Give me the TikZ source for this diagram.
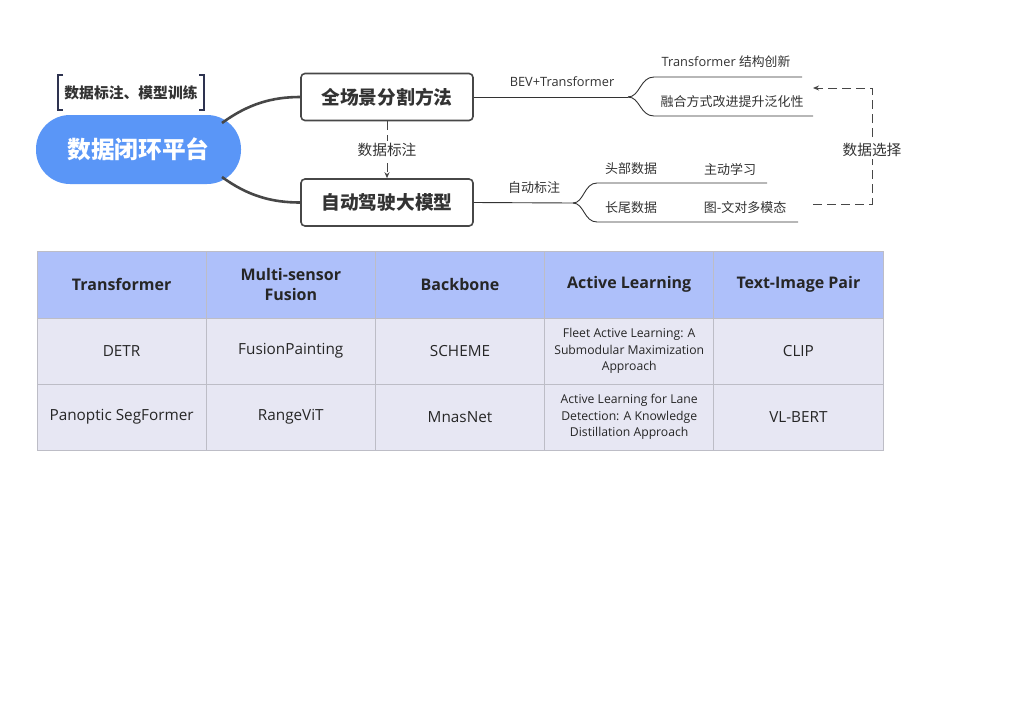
\documentclass[tikz,border=0pt]{standalone}
\usepackage{fontspec}
\setmainfont{Open Sans}
\newfontfamily\cjk{Noto Sans CJK SC}
\usetikzlibrary{arrows.meta}
\definecolor{txt}{HTML}{333333}
\definecolor{pillblue}{HTML}{5A96F7}
\definecolor{hdr}{HTML}{AEC0FA}
\definecolor{body}{HTML}{E7E7F3}
\definecolor{gridc}{HTML}{BDBDC6}
\definecolor{brk}{HTML}{2E3350}
\tikzset{
  thickline/.style={draw=txt!90, line width=2.6pt},
  thinline/.style={draw=txt, line width=0.9pt},
  mainbox/.style={draw=txt!90, line width=1.6pt, rounded corners=4pt, fill=white, minimum width=172pt, minimum height=47pt, font=\cjk\bfseries\fontsize{18.7}{22}\selectfont, text=txt, inner sep=0pt},
  lbl/.style={font=\cjk\fontsize{13}{15}\selectfont, text=txt, inner sep=1pt},
  lbllat/.style={font=\fontsize{12.8}{15}\selectfont, text=txt, inner sep=1pt},
  hcell/.style={draw=gridc, line width=1pt, fill=hdr, minimum width=169.2pt, minimum height=67pt, inner sep=0pt, align=center, font=\bfseries\fontsize{16}{20}\selectfont, text=black!85},
  bcell/.style={draw=gridc, line width=1pt, fill=body, minimum width=169.2pt, minimum height=66pt, inner sep=0pt, align=center, font=\fontsize{15.3}{18}\selectfont, text=black!85},
  scell/.style={bcell, font=\fontsize{12.2}{16.5}\selectfont},
  dashc/.style={draw=txt!90, line width=1pt, dash pattern=on 9pt off 5pt},
}
\begin{document}
\begin{tikzpicture}[x=1pt,y=-1pt]
\fill[white] (0,0) rectangle (1024,702);
\useasboundingbox (0,0) rectangle (1024,702);

% main pill
\node[fill=pillblue, rounded corners=34pt, minimum width=205pt, minimum height=69pt, inner sep=0pt,
  font=\cjk\bfseries\fontsize{23.7}{26}\selectfont, text=white] (pill) at (138.5,149.5) {数据闭环平台};

% bracket label
\node[font=\cjk\bfseries\fontsize{14.8}{17}\selectfont, text=txt] (brklbl) at (131,93) {数据标注、模型训练};
\coordinate (bl1) at (63,75); \coordinate (bl2) at (63,110);
\coordinate (br1) at (199,75); \coordinate (br2) at (199,110);
\draw[brk, line width=1.2pt] (bl1) -- ++(-5,0) -- ++(0,35) -- (bl2);
\draw[brk, line width=1.2pt] (br1) -- ++(5,0) -- ++(0,35) -- (br2);

% boxes
\node[mainbox] (b1) at (387,97) {全场景分割方法};
\node[mainbox] (b2) at (387,202.5) {自动驾驶大模型};

% curves from pill
\coordinate (p1) at (222,123);
\coordinate (p2) at (222,177);
\draw[thickline] (p1) .. controls (248,104) and (272,97) .. (b1.west);
\draw[thickline] (p2) .. controls (248,196) and (272,202.5) .. (b2.west);

% dashed arrow between boxes
\draw[dashc, -{Stealth[length=6pt,width=5pt]}] (b1.south) -- (b2.north)
  node[midway, fill=white, lbl, font=\cjk\fontsize{14.7}{17}\selectfont, inner sep=2pt] (dl) {数据标注};

% right branches, box 1
\coordinate (j1) at (628,97);
\coordinate (u1e) at (802,77);
\coordinate (l1e) at (813,116);
\draw[thinline] (b1.east) -- (j1);
\draw[thinline] (j1) .. controls (640,97) and (640,77) .. (654,77) -- (u1e);
\draw[thinline] (j1) .. controls (640,97) and (640,116) .. (654,116) -- (l1e);
\node[lbllat] (bev) at (562,82) {BEV+Transformer};
\node[lbllat] (t1) at (726,62) {Transformer {\cjk 结构创新}};
\node[lbl] (t2) at (732,102) {融合方式改进提升泛化性};

% right branches, box 2
\coordinate (j2) at (573,203);
\coordinate (u2e) at (767,183);
\coordinate (l2e) at (798,222);
\draw[thinline] (b2.east) -- (j2);
\draw[thinline] (j2) .. controls (584,203) and (584,183) .. (597,183) -- (u2e);
\draw[thinline] (j2) .. controls (584,203) and (584,222) .. (597,222) -- (l2e);
\node[lbl] (zd) at (534,188) {自动标注};
\node[lbl] (tb) at (631,169) {头部数据};
\node[lbl] (zx) at (730,169) {主动学习};
\node[lbl] (cw) at (631,208) {长尾数据};
\node[lbl] (tw) at (745,208) {图-文对多模态};

% data selection dashed connector
\coordinate (ds1) at (813,204);
\coordinate (ds2) at (872,204);
\coordinate (ds3) at (872,88);
\coordinate (ds4) at (813,88);
\draw[dashc, -{Stealth[length=6pt,width=5pt]}] (ds1) -- (ds2) -- (ds3) -- (ds4);
\node[fill=white, lbl, font=\cjk\fontsize{14.7}{17}\selectfont, inner sep=2pt] (dsl) at (872,150) {数据选择};

% table
\node[hcell] (h1) at (121.6,284.5) {Transformer};
\node[hcell] (h2) at (290.8,284.5) {Multi-sensor\\Fusion};
\node[hcell] (h3) at (460,284.5) {Backbone};
\node[hcell] (h4) at (629.2,284.5) {Active Learning};
\node[hcell] (h5) at (798.4,284.5) {Text-Image Pair};

\node[bcell] (a1) at (121.6,351) {DETR};
\node[bcell] (a2) at (290.8,351) {FusionPainting};
\node[bcell] (a3) at (460,351) {SCHEME};
\node[scell] (a4) at (629.2,351) {Fleet Active Learning: A\\Submodular Maximization\\Approach};
\node[bcell] (a5) at (798.4,351) {CLIP};

\node[bcell] (c1) at (121.6,417) {Panoptic SegFormer};
\node[bcell] (c2) at (290.8,417) {RangeViT};
\node[bcell] (c3) at (460,417) {MnasNet};
\node[scell] (c4) at (629.2,417) {Active Learning for Lane\\Detection: A Knowledge\\Distillation Approach};
\node[bcell] (c5) at (798.4,417) {VL-BERT};
\end{tikzpicture}
\end{document}
